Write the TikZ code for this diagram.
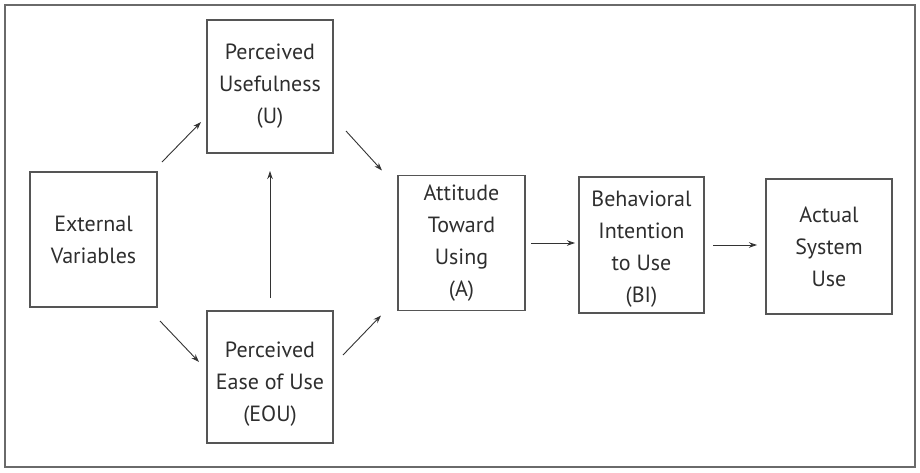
\documentclass[tikz,border=0pt]{standalone}
\usepackage{fontspec}
\setmainfont{PT Sans}
\usetikzlibrary{arrows.meta}
\definecolor{boxgray}{HTML}{555555}
\definecolor{textgray}{HTML}{2E2E2E}
\definecolor{framegray}{HTML}{6A6A6A}
\newcommand{\dropbox}[2]{\raisebox{-#1}[\height][\depth]{\begin{tabular}{@{}c@{}}#2\end{tabular}}}
\begin{document}
\begin{tikzpicture}[x=1pt,y=-1pt,
  box/.style={draw=boxgray, line width=1.2pt, inner sep=0pt, outer sep=0pt, align=center,
              text=textgray, font=\fontsize{22}{32}\selectfont},
  arr/.style={draw=black!80, line width=0.9pt, -{Stealth[length=8pt,width=5.5pt]}},
  frame/.style={draw=framegray, line width=1.6pt}]
\useasboundingbox (0,0) rectangle (920,472);
\draw[frame] (5,5) rectangle (915,467);
\node[box, minimum width=126pt, minimum height=133pt] (U) at (270,86.5) {Perceived\\Usefulness\\(U)};
\node[box, minimum width=127pt, minimum height=135pt] (Ext) at (93.5,239.5) {External\\Variables};
\node[box, minimum width=126pt, minimum height=132pt] (EOU) at (270,377) {\dropbox{6pt}{Perceived\\Ease of Use\\(EOU)}};
\node[box, minimum width=127pt, minimum height=135pt] (A) at (461.5,243) {Attitude\\Toward\\Using\\(A)};
\node[box, minimum width=125pt, minimum height=136pt] (BI) at (641.5,245) {\dropbox{3pt}{Behavioral\\Intention\\to Use\\(BI)}};
\node[box, minimum width=126pt, minimum height=135pt] (Act) at (829,246.5) {Actual\\System\\Use};
\draw[arr] ([shift={(5,-10)}]Ext.north east) -- ([shift={(-6,-31)}]U.south west);
\draw[arr] ([shift={(13,-22)}]U.south east) -- ([shift={(-16,-5)}]A.north west);
\draw[arr] ([shift={(0,-13)}]EOU.north) -- ([shift={(0,18)}]U.south);
\draw[arr] ([shift={(3,14)}]Ext.south east) -- ([shift={(-8,51)}]EOU.north west);
\draw[arr] ([shift={(10,44)}]EOU.north east) -- ([shift={(-17,5)}]A.south west);
\draw[arr] ([xshift=6]A.east) -- ([xshift=-4]A.east -| BI.west);
\draw[arr] ([xshift=9]BI.east) -- ([xshift=-9]BI.east -| Act.west);
\end{tikzpicture}
\end{document}
